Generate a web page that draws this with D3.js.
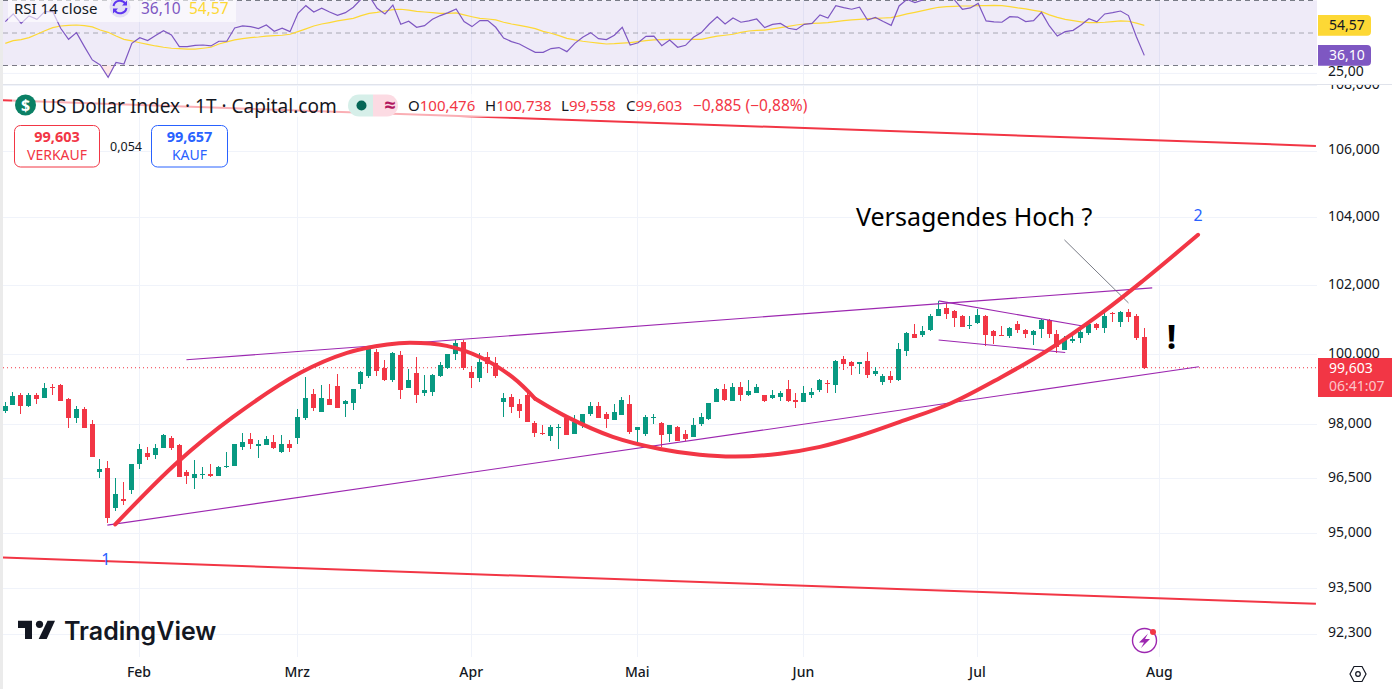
<!DOCTYPE html>
<html>
<head>
<meta charset="utf-8">
<script src="https://cdn.jsdelivr.net/npm/d3@7/dist/d3.min.js"></script>
<style>
  html, body { margin: 0; padding: 0; background: #fff; overflow: hidden; }
  text { font-family: "Noto Sans", "Open Sans", sans-serif; }
</style>
</head>
<body>
<div class="chart"></div>
<script>
// Price candles, one entry per trading day
var opens = [98.39,98.55,98.84,98.53,98.84,98.75,99.06,99.12,98.72,98.19,
  98.44,98.02,96.66,96.77,95.67,95.92,96.17,96.88,97.19,97.13,
  97.33,97.63,97.41,96.66,96.50,96.58,96.63,96.55,96.80,96.83,
  97.38,97.58,97.39,97.41,97.52,97.24,97.46,97.63,98.19,98.86,
  98.36,98.72,99.09,98.58,98.60,99.14,99.37,100.05,99.60,99.26,
  99.97,99.03,99.46,98.89,98.92,99.37,99.60,100.00,100.34,99.49,
  99.31,99.91,99.74,98.63,98.77,98.58,98.83,98.04,97.76,97.68,
  97.91,98.18,97.73,98.01,98.29,98.52,98.29,98.13,98.26,98.58,
  97.85,97.73,98.18,98.04,97.73,97.93,97.73,97.65,98.01,98.16,
  98.63,99.00,98.66,99.06,98.82,98.88,98.82,98.75,98.77,99.00,
  98.68,98.63,98.82,98.97,99.17,99.11,99.85,99.76,99.71,99.79,
  99.43,99.20,99.37,99.25,100.08,100.57,100.54,100.68,101.09,101.33,
  101.24,101.09,100.82,100.88,101.09,100.65,100.53,100.51,100.85,100.68,
  100.54,100.71,100.97,100.57,100.11,100.38,100.45,100.60,100.85,100.74,
  101.19,100.91,101.21,101.09,100.476];

var highs = [98.64,98.92,98.89,98.89,98.89,99.18,99.15,99.15,98.75,98.53,
  98.50,98.13,97.02,96.97,96.50,96.39,96.88,97.44,97.38,97.44,
  97.72,97.67,97.46,96.72,97.00,96.80,96.88,96.83,97.24,97.44,
  97.77,97.77,97.55,97.67,97.69,97.69,97.55,98.44,99.35,99.01,
  99.12,99.15,99.43,98.69,99.00,99.51,100.23,100.14,99.83,100.05,
  100.08,99.57,99.91,99.40,99.43,99.77,100.00,100.40,100.40,99.65,
  100.03,100.05,99.91,98.89,98.86,98.72,98.89,98.10,97.98,97.98,
  98.01,98.26,98.26,98.29,98.63,98.63,98.35,98.58,98.77,98.83,
  97.93,98.26,98.29,98.07,97.99,97.96,97.85,98.18,98.32,98.60,
  99.03,99.14,99.17,99.20,99.25,99.14,98.82,98.97,98.94,99.25,
  98.88,99.09,99.03,99.28,99.25,99.82,99.93,99.79,99.76,100.05,
  99.62,99.43,99.51,100.31,100.62,100.85,100.79,101.15,101.53,101.47,
  101.27,101.12,101.09,101.30,101.12,100.68,100.79,100.77,100.94,100.71,
  100.68,101.00,101.00,100.68,100.51,100.51,100.71,100.88,100.88,101.21,
  101.21,101.24,101.30,101.15,100.738];

var lows = [98.33,98.55,98.30,98.50,98.58,98.75,98.84,98.67,97.91,98.05,
  97.91,97.10,96.50,95.27,95.59,95.75,96.06,96.75,97.00,97.02,
  97.33,97.27,96.52,96.33,96.19,96.47,96.52,96.55,96.77,96.83,
  97.27,97.30,97.05,97.41,97.30,97.19,97.24,97.46,98.11,98.39,
  98.36,98.55,98.46,98.21,98.41,99.00,99.31,99.37,99.23,99.20,
  98.72,99.03,98.60,98.80,98.80,99.34,99.57,99.83,99.54,99.03,
  99.20,99.46,99.31,98.21,98.32,98.18,98.07,97.65,97.71,97.54,
  97.32,97.71,97.73,97.90,98.24,98.18,97.90,98.13,98.26,97.73,
  97.43,97.68,98.01,97.37,97.51,97.54,97.54,97.65,97.96,98.13,
  98.63,98.66,98.66,98.66,98.80,98.88,98.63,98.71,98.66,98.63,
  98.45,98.63,98.75,98.91,98.88,98.88,99.54,99.40,99.43,99.31,
  99.37,99.11,99.17,99.23,99.93,100.45,100.48,100.65,101.09,101.00,
  100.77,100.77,100.71,100.85,100.22,100.28,100.51,100.45,100.60,100.45,
  100.25,100.45,100.45,100.02,100.11,100.31,100.31,100.54,100.68,100.60,
  100.91,100.77,100.91,100.40,99.558];

var closes = [98.53,98.81,98.53,98.84,98.72,99.03,99.03,98.67,98.19,98.44,
  97.91,97.10,96.75,95.40,96.06,95.86,96.88,97.30,97.08,97.35,
  97.69,97.35,96.52,96.55,96.63,96.63,96.55,96.80,96.83,97.44,
  97.52,97.46,97.44,97.58,97.33,97.46,97.33,98.22,98.75,98.47,
  98.75,98.55,98.46,98.66,99.00,99.49,100.20,99.51,99.26,100.03,
  98.97,99.26,98.83,98.97,99.40,99.68,100.00,100.31,99.60,99.31,
  99.77,99.71,99.37,98.75,98.49,98.38,98.07,97.76,97.73,97.93,
  97.94,97.71,98.07,98.29,98.52,98.18,98.15,98.35,98.69,97.79,
  97.93,98.21,98.21,97.71,97.99,97.54,97.59,97.99,98.21,98.60,
  99.00,98.68,99.06,98.82,98.94,99.06,98.66,98.82,98.88,98.66,
  98.63,98.88,98.91,99.25,99.14,99.79,99.71,99.65,99.76,99.40,
  99.51,99.37,99.25,100.14,100.60,100.45,100.65,101.09,101.30,101.15,
  101.03,100.77,100.84,101.12,100.54,100.51,100.52,100.74,100.68,100.57,
  100.65,100.97,100.57,100.19,100.40,100.42,100.62,100.85,100.74,101.09,
  101.17,101.21,101.06,100.45,99.603];

// RSI 14 and its moving average
var rsi = [56.9,61.6,55.8,60.4,58.3,63.0,63.0,52.8,46.0,50.1,
  41.5,33.3,30.2,22.6,31.8,30.8,43.5,47.0,45.2,48.3,
  51.3,48.7,41.5,41.5,42.3,42.5,41.9,44.8,44.8,53.0,
  54.2,53.8,52.6,54.8,50.9,52.8,50.7,62.0,66.7,62.8,
  65.1,62.8,60.8,62.4,65.7,70.8,72.7,65.1,61.6,67.1,
  55.2,57.1,53.4,54.4,58.3,60.6,62.4,64.7,56.9,53.8,
  57.5,57.5,53.4,46.8,44.6,43.1,40.5,38.0,38.0,40.3,
  40.9,38.4,43.5,47.2,50.1,46.4,45.8,48.5,53.4,42.5,
  43.9,47.8,48.0,42.1,45.6,41.1,42.3,47.2,50.1,55.4,
  59.9,55.4,59.1,56.5,57.3,58.5,53.2,55.2,55.8,52.8,
  51.9,55.2,55.8,61.0,59.1,66.7,65.5,64.5,65.7,57.9,
  59.5,56.9,54.6,66.5,70.6,68.6,70.2,72.3,74.7,72.3,
  70.2,64.5,65.3,68.1,57.3,56.7,56.5,59.9,59.7,56.9,
  57.5,62.6,54.2,48.0,50.7,51.5,54.8,58.7,56.7,61.6,
  62.4,63.4,60.6,47.6,36.10];

var rsiMa = [43.5,45.2,45.8,47.0,49.1,51.3,53.2,54.2,54.6,54.8,
  54.4,53.6,51.7,50.3,48.0,46.0,45.0,43.9,42.9,41.9,
  41.1,40.5,40.3,40.0,40.0,40.5,41.1,43.1,44.4,45.6,
  46.4,47.0,47.4,48.0,48.3,48.5,49.1,50.7,52.4,54.2,
  55.4,56.3,57.3,58.1,58.9,60.6,62.0,62.6,63.4,64.3,
  64.5,64.0,63.2,62.8,62.4,62.0,62.0,62.2,61.0,59.9,
  58.9,58.5,57.9,56.5,55.4,54.6,53.6,52.6,50.9,49.7,
  48.3,46.6,45.6,44.8,44.2,43.7,43.1,43.3,43.7,43.9,
  44.6,45.2,45.6,45.8,46.0,46.0,46.0,46.0,46.0,47.0,
  48.0,48.5,49.1,50.3,51.1,51.5,51.7,52.4,53.2,54.0,
  54.8,55.4,55.8,56.0,56.3,56.9,57.5,57.9,58.3,58.7,
  58.9,59.1,59.3,60.4,61.6,62.6,63.6,64.7,65.7,66.1,
  66.3,66.5,66.5,66.7,66.7,66.9,66.7,66.1,65.3,64.7,
  63.8,63.0,61.0,59.5,58.3,57.5,56.7,56.3,56.3,56.5,
  56.9,57.3,57.1,56.0,54.57];

// Axis ticks
var priceTicks = [108, 106, 104, 102, 100, 98, 96.5, 95, 93.5, 92.3];
var rsiLevels = [70, 50, 30];
var monthNames = ["Feb", "Mrz", "Apr", "Mai", "Jun", "Jul", "Aug"];
var monthStarts = [17, 37, 59, 80, 101, 123, 146];

// Hand drawn lines, [bar index, price]
var curveUp = [[13.9,95.23],[21.7,96.93],[28.8,98.21],[37.3,99.46],[43.2,100.03],[48.3,100.27],
  [51.2,100.32],[55.8,100.23],[60,99.91],[64.2,99.32],[67,98.72]];
var curveDown = [[67,98.72],[71,98.21],[76.8,97.65],[82.8,97.31],[87.8,97.15],[92.3,97.10],
  [97.9,97.18],[103,97.37],[108,97.68],[113.1,98.07],[119.4,98.58],[125.8,99.32],[131.7,100.09],
  [138.8,101.21],[143.8,102.11],[150.8,103.47]];
var channelUpper = [[22.9,99.83],[145,101.91]];
var channelLower = [[12.9,95.21],[150.9,99.63]];
var flagUpper = [[118,101.53],[136.2,100.80]];
var flagLower = [[118,100.40],[134,100.04]];
var redUpper = [[-0.3,107.54],[165.7,106.14]];
var redLower = [[-0.3,94.33],[165.7,93.09]];
var pointerLine = [[133.9,103.32],[142,101.47]];

var lastPrice = 99.603;

var svgWidth = 1392;
var svgHeight = 689;
var red = "#f23645";
var green = "#089981";
var purple = "#9c27b0";
var blue = "#2962ff";
var rsiColor = "#7e57c2";
var maColor = "#fdd835";
var gridColor = "#f0f3fa";
var textColor = "#131722";
var plotLeft = 3;
var plotRight = 1317;

var svg = d3.select(".chart")
  .append("svg")
  .attr("width", svgWidth)
  .attr("height", svgHeight)
  .style("display", "block");

// Scales
var xScale = d3.scaleLinear().domain([0, 144]).range([5.3, 1144.3]);
var yScale = d3.scaleLog().domain([92.3, 106]).range([633.5, 150.5]);
var rsiScale = d3.scaleLinear().domain([30, 70]).range([65.3, 0.3]);

var de = d3.formatLocale({ decimal: ",", thousands: ".", grouping: [3], currency: ["", "€"] });
var price3 = de.format(".3f");
var num2 = de.format(".2f");

// pixel column of a bar
function barX(i) {
  return Math.round(xScale(i) - 0.8);
}

var defs = svg.append("defs");
defs.append("clipPath").attr("id", "mainClip").append("rect")
  .attr("x", plotLeft).attr("y", 85).attr("width", plotRight - plotLeft).attr("height", 572);
defs.append("clipPath").attr("id", "rsiClip").append("rect")
  .attr("x", plotLeft).attr("y", 0).attr("width", plotRight - plotLeft).attr("height", 84);
defs.append("clipPath").attr("id", "oversoldClip").append("rect")
  .attr("x", plotLeft).attr("y", rsiScale(30)).attr("width", plotRight - plotLeft).attr("height", 20);
defs.append("clipPath").attr("id", "axisClip").append("rect")
  .attr("x", plotRight).attr("y", 85).attr("width", 80).attr("height", 572);

// Left grey edge
svg.append("rect").attr("x", 0).attr("y", 0).attr("width", plotLeft).attr("height", svgHeight).attr("fill", "#ebebeb");

// Vertical grid lines and month labels
var xAxis = d3.axisBottom(xScale)
  .tickValues(monthStarts)
  .tickSize(0)
  .tickPadding(10)
  .tickFormat(function(d, i) { return monthNames[i]; });

svg.append("g")
  .attr("transform", "translate(-1.3, 657)")
  .call(xAxis)
  .call(function(g) { g.select(".domain").remove(); })
  .selectAll("text")
  .attr("font-size", 14)
  .attr("font-weight", 500)
  .attr("fill", textColor);

svg.append("g").selectAll("line")
  .data(monthStarts)
  .enter()
  .append("line")
  .attr("x1", d => barX(d) + 0.5)
  .attr("x2", d => barX(d) + 0.5)
  .attr("y1", 0)
  .attr("y2", 657)
  .attr("stroke", gridColor);

// RSI pane
var rsiPane = svg.append("g").attr("clip-path", "url(#rsiClip)");

rsiPane.append("rect")
  .attr("x", plotLeft)
  .attr("y", rsiScale(70))
  .attr("width", plotRight - plotLeft)
  .attr("height", rsiScale(30) - rsiScale(70))
  .attr("fill", rsiColor)
  .attr("fill-opacity", 0.12);

rsiPane.append("line")
  .attr("x1", plotLeft).attr("x2", plotRight)
  .attr("y1", rsiScale(25)).attr("y2", rsiScale(25))
  .attr("stroke", gridColor);

rsiPane.selectAll(".level")
  .data(rsiLevels)
  .enter()
  .append("line")
  .attr("class", "level")
  .attr("x1", plotLeft).attr("x2", plotRight)
  .attr("y1", d => rsiScale(d) + 0.2)
  .attr("y2", d => rsiScale(d) + 0.2)
  .attr("stroke", "#787b86")
  .attr("stroke-opacity", d => d == 50 ? 0.6 : 1)
  .attr("stroke-dasharray", "5,4");

var oversold = d3.area()
  .x((d, i) => xScale(i))
  .y0(rsiScale(30))
  .y1(d => rsiScale(d));

rsiPane.append("path")
  .datum(rsi)
  .attr("d", oversold)
  .attr("clip-path", "url(#oversoldClip)")
  .attr("fill", "#f23645")
  .attr("fill-opacity", 0.12);

var rsiLine = d3.line()
  .x((d, i) => xScale(i))
  .y(d => rsiScale(d));

rsiPane.append("path")
  .datum(rsiMa)
  .attr("d", rsiLine)
  .attr("fill", "none")
  .attr("stroke", maColor)
  .attr("stroke-width", 1.2);

rsiPane.append("path")
  .datum(rsi)
  .attr("d", rsiLine)
  .attr("fill", "none")
  .attr("stroke", rsiColor)
  .attr("stroke-width", 1.2);

// Separator between the panes
svg.append("line")
  .attr("x1", plotLeft).attr("x2", svgWidth)
  .attr("y1", 84.5).attr("y2", 84.5)
  .attr("stroke", "#e0e3eb");

// Horizontal grid
var mainPane = svg.append("g").attr("clip-path", "url(#mainClip)");

mainPane.selectAll(".hgrid")
  .data(priceTicks)
  .enter()
  .append("line")
  .attr("class", "hgrid")
  .attr("x1", plotLeft).attr("x2", plotRight)
  .attr("y1", d => Math.round(yScale(d)) + 0.5)
  .attr("y2", d => Math.round(yScale(d)) + 0.5)
  .attr("stroke", gridColor);

// Last price dotted line
mainPane.append("line")
  .attr("x1", plotLeft).attr("x2", plotRight)
  .attr("y1", yScale(lastPrice)).attr("y2", yScale(lastPrice))
  .attr("stroke", red)
  .attr("stroke-dasharray", "1,3");

// Candles
var candles = mainPane.selectAll(".candle")
  .data(closes)
  .enter()
  .append("g")
  .attr("class", "candle")
  .attr("shape-rendering", "crispEdges")
  .attr("fill", (d, i) => d >= opens[i] ? green : red);

candles.append("rect")
  .attr("x", (d, i) => barX(i))
  .attr("width", 1)
  .attr("y", (d, i) => yScale(highs[i]))
  .attr("height", (d, i) => yScale(lows[i]) - yScale(highs[i]));

candles.append("rect")
  .attr("x", (d, i) => barX(i) - 2)
  .attr("width", 5)
  .attr("y", (d, i) => yScale(Math.max(opens[i], d)))
  .attr("height", (d, i) => Math.max(1, Math.abs(yScale(opens[i]) - yScale(d))));

// Drawings
var straightLine = d3.line()
  .x(d => xScale(d[0]))
  .y(d => yScale(d[1]));

var smoothLine = d3.line()
  .x(d => xScale(d[0]))
  .y(d => yScale(d[1]))
  .curve(d3.curveCatmullRom.alpha(0.5));

function drawLine(points, color, width) {
  mainPane.append("path")
    .datum(points)
    .attr("d", straightLine)
    .attr("fill", "none")
    .attr("stroke", color)
    .attr("stroke-width", width);
}

drawLine(channelUpper, purple, 1.1);
drawLine(channelLower, purple, 1.1);
drawLine(flagUpper, purple, 1.1);
drawLine(flagLower, purple, 1.1);
drawLine(redUpper, red, 2);
drawLine(redLower, red, 2);
drawLine(pointerLine, "#6a6d78", 0.9);

[curveUp, curveDown].forEach(function(points) {
  mainPane.append("path")
    .datum(points)
    .attr("d", smoothLine)
    .attr("fill", "none")
    .attr("stroke", red)
    .attr("stroke-width", 4)
    .attr("stroke-linecap", "round");
});

// Chart notes
svg.append("text").attr("x", 856).attr("y", 226).attr("font-size", 25).attr("fill", "#000")
  .text("Versagendes Hoch ?");
svg.append("text").attr("x", xScale(12.7)).attr("y", 565).attr("font-size", 16).attr("fill", blue)
  .attr("text-anchor", "middle").text("1");
svg.append("text").attr("x", xScale(150.8)).attr("y", 221).attr("font-size", 16).attr("fill", blue)
  .attr("text-anchor", "middle").text("2");
svg.append("text").attr("x", 1171.5).attr("y", 349).attr("font-size", 34).attr("font-weight", 700)
  .attr("fill", "#000").attr("text-anchor", "middle").text("!");

// Price axis
var yAxis = d3.axisRight(yScale)
  .tickValues(priceTicks)
  .tickSize(0)
  .tickPadding(11)
  .tickFormat(price3);

svg.append("g")
  .attr("clip-path", "url(#axisClip)")
  .append("g")
  .attr("transform", `translate(${plotRight}, -1)`)
  .call(yAxis)
  .call(function(g) { g.select(".domain").remove(); })
  .selectAll("text")
  .attr("font-size", 14)
  .attr("fill", textColor);

svg.append("line")
  .attr("x1", plotRight).attr("x2", svgWidth)
  .attr("y1", 84.5).attr("y2", 84.5)
  .attr("stroke", "#e0e3eb");

// RSI axis labels
svg.append("text").attr("x", 1328).attr("y", rsiScale(25) + 3).attr("font-size", 14).attr("fill", textColor)
  .text(num2(25));

function rsiTag(value, fill, color) {
  var y = rsiScale(value);
  svg.append("path")
    .attr("d", `M1318,${y - 10.4}H1367a4,4 0 0 1 4,4V${y + 6.4}a4,4 0 0 1 -4,4H1318Z`)
    .attr("fill", fill);
  svg.append("text").attr("x", 1329).attr("y", y + 5).attr("font-size", 14).attr("fill", color)
    .text(num2(value));
}
rsiTag(rsiMa[rsiMa.length - 1], maColor, textColor);
rsiTag(rsi[rsi.length - 1], rsiColor, "#fff");

// Last price tag
svg.append("rect").attr("x", 1318).attr("y", 358).attr("width", 74).attr("height", 39).attr("fill", red);
svg.append("text").attr("x", 1329).attr("y", 373).attr("font-size", 14).attr("fill", "#fff").text(price3(lastPrice));
svg.append("text").attr("x", 1329).attr("y", 391).attr("font-size", 14).attr("fill", "#fff").attr("fill-opacity", 0.72).text("06:41:07");

// Settings hexagon
svg.append("path").attr("d", "M1350,674l4,-7.5h8l4,7.5l-4,7.5h-8Z").attr("fill", "none").attr("stroke", textColor).attr("stroke-width", 1.2);
svg.append("circle").attr("cx", 1358).attr("cy", 674).attr("r", 2.3).attr("fill", "none").attr("stroke", textColor).attr("stroke-width", 1.2);

// RSI legend
svg.append("rect").attr("x", 8).attr("y", 0).attr("width", 228).attr("height", 22).attr("fill", "#fff").attr("fill-opacity", 0.6);
svg.append("text").attr("x", 14).attr("y", 13.5).attr("font-size", 15).attr("fill", textColor).text("RSI 14 close");
svg.append("circle").attr("cx", 120).attr("cy", 7).attr("r", 10.5).attr("fill", "#e3dff3");
svg.append("path").attr("d", "M113.5,6a6.5,6.5 0 0 1 12,-2M126.5,8a6.5,6.5 0 0 1 -12,2")
  .attr("fill", "none").attr("stroke", "#5e35f0").attr("stroke-width", 2);
svg.append("path").attr("d", "M127,0.5v5h-5ZM113,13.5v-5h5Z").attr("fill", "#5e35f0");
svg.append("text").attr("x", 141).attr("y", 13.5).attr("font-size", 15.5).attr("fill", rsiColor).text(num2(rsi[rsi.length - 1]));
svg.append("text").attr("x", 189).attr("y", 13.5).attr("font-size", 15.5).attr("fill", maColor).text(num2(rsiMa[rsiMa.length - 1]));

// Main legend
svg.append("rect").attr("x", 12).attr("y", 94).attr("width", 802).attr("height", 23).attr("fill", "#fff").attr("fill-opacity", 0.6);
svg.append("circle").attr("cx", 25.5).attr("cy", 105).attr("r", 10.5).attr("fill", "#0b8065");
svg.append("text").attr("x", 25.5).attr("y", 111).attr("font-size", 16).attr("font-weight", 700).attr("fill", "#fff")
  .attr("text-anchor", "middle").text("$");
svg.append("text").attr("x", 42).attr("y", 112.5).attr("font-size", 19).attr("fill", textColor)
  .text("US Dollar Index · 1T · Capital.com");

svg.append("path").attr("d", "M373,94.5H359a11,11 0 0 0 0,22H373Z").attr("fill", "#d6efe9");
svg.append("path").attr("d", "M373,94.5H387a11,11 0 0 1 0,22H373Z").attr("fill", "#fcdbe3");
svg.append("circle").attr("cx", 361.5).attr("cy", 105.5).attr("r", 5).attr("fill", "#056656");
svg.append("text").attr("x", 390).attr("y", 112).attr("font-size", 20).attr("font-weight", 700).attr("fill", "#b2185f")
  .attr("text-anchor", "middle").text("≈");

var ohlcLabels = ["O", "H", "L", "C"];
var ohlcValues = [opens, highs, lows, closes].map(a => a[a.length - 1]);
var labelX = [408, 485, 561, 626];
ohlcLabels.forEach(function(label, i) {
  var t = svg.append("text").attr("x", labelX[i]).attr("y", 111).attr("font-size", 15);
  t.append("tspan").attr("fill", textColor).text(label);
  t.append("tspan").attr("fill", red).text(price3(ohlcValues[i]));
});
svg.append("text").attr("x", 693).attr("y", 111).attr("font-size", 15.5).attr("fill", red).text("−0,885 (−0,88%)");

// Sell and buy boxes
function quoteBox(x, w, color, value, label) {
  svg.append("rect").attr("x", x).attr("y", 125.5).attr("width", w).attr("height", 41.5).attr("rx", 6)
    .attr("fill", "#fff").attr("stroke", color);
  svg.append("text").attr("x", x + w / 2).attr("y", 142).attr("font-size", 14.5).attr("font-weight", 700).attr("fill", color)
    .attr("text-anchor", "middle").text(value);
  svg.append("text").attr("x", x + w / 2).attr("y", 160).attr("font-size", 14).attr("fill", color)
    .attr("text-anchor", "middle").text(label);
}
quoteBox(14.5, 85, red, "99,603", "VERKAUF");
quoteBox(151.5, 76, blue, "99,657", "KAUF");
svg.append("text").attr("x", 126).attr("y", 151).attr("font-size", 12.5).attr("fill", textColor)
  .attr("text-anchor", "middle").text("0,054");

// TradingView logo
svg.append("path").attr("d", "M18,620.7H32V639H25V628H18Z").attr("fill", "#131722");
svg.append("circle").attr("cx", 39.5).attr("cy", 624.3).attr("r", 3.6).attr("fill", "#131722");
svg.append("path").attr("d", "M47.5,620.7H55L46.7,639H38.7Z").attr("fill", "#131722");
svg.append("text").attr("x", 64).attr("y", 640).attr("font-size", 25).attr("font-weight", 600).attr("fill", "#131722")
  .style("font-family", "Inter, sans-serif").text("TradingView");

// Bolt badge
svg.append("circle").attr("cx", 1144.5).attr("cy", 640.5).attr("r", 12).attr("fill", "#fff").attr("stroke", purple).attr("stroke-width", 1.4);
svg.append("path").attr("d", "M1148,633.5L1139,642.5H1144L1141,648L1150,639H1145Z").attr("fill", purple);
svg.append("circle").attr("cx", 1153).attr("cy", 632).attr("r", 3).attr("fill", red);
</script>
</body>
</html>
